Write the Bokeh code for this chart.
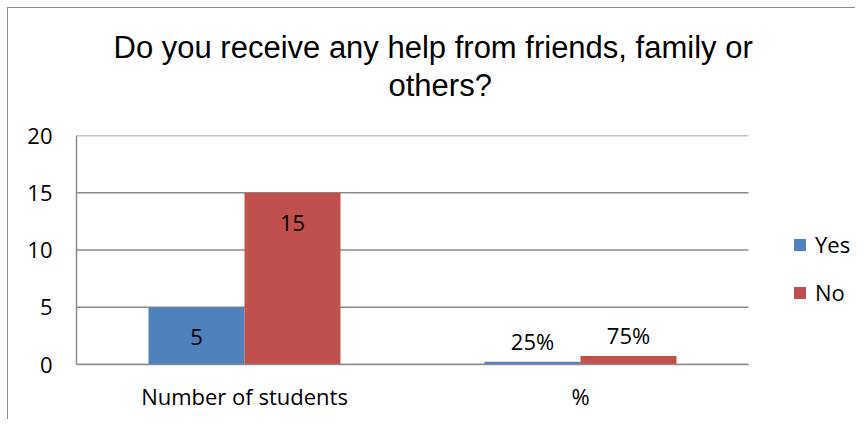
from bokeh.plotting import figure
from bokeh.models import (ColumnDataSource, Range1d, Legend, LegendItem,
                          FixedTicker, Title)
from bokeh.core.properties import value
from bokeh.embed import file_html
from bokeh.resources import INLINE

# ---- data ----
categories = ["Number of students", "%"]
yes_values = [5, 0.25]
no_values = [15, 0.75]
yes_labels = ["5", "25%"]
no_labels = ["15", "75%"]
y_ticks = [0, 5, 10, 15, 20]
title_lines = ["Do you receive any help from friends, family or", "others?"]
series_names = ["Yes", "No"]

YES_COLOR = "#4F81BD"
NO_COLOR = "#C0504D"
GRID = "#8c8c8c"
TICK_FONT = "Open Sans"
TICK_SIZE = "22px"

BAR_W = 0.2857           # bar width as a fraction of one category slot
EXTRA_RIGHT = 108 / 336  # legend room to the right of the category area

n = len(categories)
x_pos = list(range(n))
x_start, x_end = -0.5, n - 0.5


def label_offsets(vals):
    # inside end for large bars (shift down), outside end for tiny ones (shift up)
    return [30 if v > 2 else -21 for v in vals]


src = ColumnDataSource(dict(
    x=x_pos,
    xy=[x - BAR_W / 2 for x in x_pos],
    xn=[x + BAR_W / 2 for x in x_pos],
    yes=yes_values,
    no=no_values,
    yes_lab=yes_labels,
    no_lab=no_labels,
    yes_off=label_offsets(yes_values),
    no_off=label_offsets(no_values),
))

p = figure(
    width=848, height=412,
    x_range=Range1d(x_start, x_end + EXTRA_RIGHT),
    y_range=Range1d(y_ticks[0], y_ticks[-1]),
    output_backend="svg", toolbar_location=None,
    min_border_left=68, min_border_right=0,
    min_border_top=127, min_border_bottom=56,
)
p.styles = {"margin-left": "7px", "margin-top": "7px",
            "border-left": "1px solid #8c8c8c", "border-top": "1px solid #8c8c8c"}
p.outline_line_color = None
p.background_fill_color = "white"
p.border_fill_color = "white"

# title: two lines, stacked above the frame (last added is on top)
p.title = None
p.add_layout(Title(text=title_lines[1], align="left", offset=312,
                   text_font="Liberation Sans", text_font_size="31px",
                   text_font_style="normal", text_color="black", standoff=65), "above")
p.add_layout(Title(text=title_lines[0], align="left", offset=37,
                   text_font="Liberation Sans", text_font_size="31px",
                   text_font_style="normal", text_color="black", standoff=-62), "above")

# horizontal gridlines limited to the category area
grid_src = ColumnDataSource(dict(x0=[x_start] * len(y_ticks), x1=[x_end] * len(y_ticks),
                                 y=y_ticks))
p.segment(x0="x0", x1="x1", y0="y", y1="y", source=grid_src,
          line_color=GRID, line_width=1.5)

r_yes = p.vbar(x="xy", top="yes", width=BAR_W, source=src,
               fill_color=YES_COLOR, line_color=None)
r_no = p.vbar(x="xn", top="no", width=BAR_W, source=src,
              fill_color=NO_COLOR, line_color=None)

p.text(x="xy", y="yes", text="yes_lab", y_offset="yes_off", source=src,
       text_align="center", text_baseline="middle",
       text_font=value(TICK_FONT), text_font_size=TICK_SIZE, text_color="black")
p.text(x="xn", y="no", text="no_lab", y_offset="no_off", source=src,
       text_align="center", text_baseline="middle",
       text_font=value(TICK_FONT), text_font_size=TICK_SIZE, text_color="black")

# axes
p.yaxis.ticker = FixedTicker(ticks=y_ticks)
p.yaxis.major_tick_out = 0
p.yaxis.major_tick_in = 0
p.yaxis.minor_tick_out = 0
p.yaxis.minor_tick_in = 0
p.yaxis.axis_line_color = GRID
p.yaxis.axis_line_width = 1.5
p.yaxis.major_label_standoff = 24
p.yaxis.major_label_text_font = TICK_FONT
p.yaxis.major_label_text_font_size = TICK_SIZE
p.yaxis.major_label_text_color = "black"

p.xaxis.ticker = FixedTicker(ticks=x_pos)
p.xaxis.major_label_overrides = {i: c for i, c in zip(x_pos, categories)}
p.xaxis.bounds = (x_start, x_end)
p.xaxis.major_tick_out = 0
p.xaxis.major_tick_in = 0
p.xaxis.minor_tick_out = 0
p.xaxis.minor_tick_in = 0
p.xaxis.axis_line_color = GRID
p.xaxis.axis_line_width = 1.5
p.xaxis.major_label_standoff = 16
p.xaxis.major_label_text_font = TICK_FONT
p.xaxis.major_label_text_font_size = TICK_SIZE
p.xaxis.major_label_text_color = "black"

p.xgrid.grid_line_color = None
p.ygrid.grid_line_color = None

legend = Legend(items=[LegendItem(label=series_names[0], renderers=[r_yes]),
                       LegendItem(label=series_names[1], renderers=[r_no])],
                location=(716, 57))
legend.padding = 0
legend.margin = 0
legend.border_line_color = None
legend.background_fill_alpha = 0
legend.glyph_width = 15
legend.glyph_height = 15
legend.label_height = 15
legend.spacing = 18
legend.label_standoff = 8
legend.label_text_font = TICK_FONT
legend.label_text_font_size = TICK_SIZE
legend.label_text_color = "black"
p.add_layout(legend)

open("out.html", "w").write(file_html(p, INLINE))
